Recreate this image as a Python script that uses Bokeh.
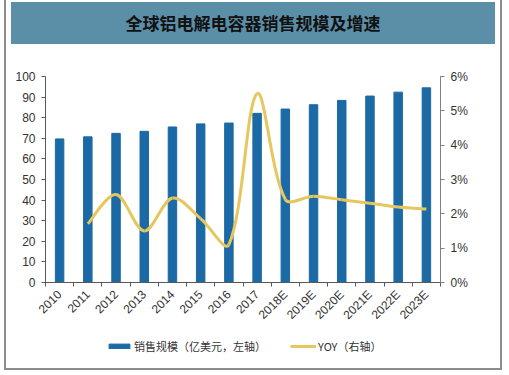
from bokeh.plotting import figure
from bokeh.models import (Div, Range1d, LinearAxis, FixedTicker, PrintfTickFormatter,
                          Legend, LegendItem, ColumnDataSource)
from bokeh.layouts import column
from bokeh.embed import file_html
from bokeh.resources import INLINE
import math

# ---- data ----
years = ["2010", "2011", "2012", "2013", "2014", "2015", "2016", "2017",
         "2018E", "2019E", "2020E", "2021E", "2022E", "2023E"]
sales = [69.7, 70.7, 72.4, 73.4, 75.5, 77.0, 77.4, 82.1, 84.2, 86.3, 88.4, 90.5, 92.4, 94.5]
yoy_years = years[1:]
yoy = [1.71, 2.56, 1.50, 2.46, 1.86, 1.10, 5.50, 2.42, 2.51, 2.41, 2.31, 2.20, 2.14]
left_ticks = [0, 10, 20, 30, 40, 50, 60, 70, 80, 90, 100]
right_ticks = [0, 1, 2, 3, 4, 5, 6]
title_text = "全球铝电解电容器销售规模及增速"
bar_label = "销售规模（亿美元，左轴）"
line_label = "YOY（右轴）"

BAR = "#1B69A5"
LINE = "#E6C75E"
AX = "#595959"
TXT = "#333333"

idx = list(range(len(years)))
pos = {y: i for i, y in enumerate(years)}

p = figure(width=484, height=280, output_backend="svg", toolbar_location=None,
           x_range=Range1d(-0.5, len(years) - 0.5), y_range=Range1d(0, 100),
           min_border_left=39, min_border_right=50, min_border_top=27, min_border_bottom=46,
           x_axis_type=None, y_axis_type=None)
p.extra_y_ranges = {"right": Range1d(0, 6)}
p.outline_line_color = None
p.xgrid.visible = False
p.ygrid.visible = False
p.background_fill_color = "white"
p.border_fill_color = "white"

src = ColumnDataSource(dict(x=idx, year=years, sales=sales))
bars = p.vbar(x="x", top="sales", width=0.3, color=BAR, source=src)

# smoothed YOY line: bezier segments through the data points, tangents scaled by
# chord lengths (screen proportions) like a spreadsheet "smoothed line"
xs = [pos[y] for y in yoy_years]
ys = yoy
n = len(xs)
SX, SY = 28.2, 34.4  # approx px per x unit / per y unit, used only for chord weighting


def dist(i, j):
    return math.hypot((xs[j] - xs[i]) * SX, (ys[j] - ys[i]) * SY)


def tangent(i):
    a = max(i - 1, 0)
    b = min(i + 1, n - 1)
    return xs[b] - xs[a], ys[b] - ys[a]


x0, y0, x1, y1, cx0, cy0, cx1, cy1 = [], [], [], [], [], [], [], []
T = 1.0 / 3.0
for i in range(n - 1):
    d_prev = dist(i - 1, i) if i > 0 else dist(i, i + 1)
    d_cur = dist(i, i + 1)
    d_next = dist(i + 1, i + 2) if i + 2 < n else d_cur
    tx0, ty0 = tangent(i)
    tx1, ty1 = tangent(i + 1)
    f0 = T * d_cur / (d_prev + d_cur)
    f1 = T * d_cur / (d_cur + d_next)
    x0.append(xs[i]); y0.append(ys[i])
    x1.append(xs[i + 1]); y1.append(ys[i + 1])
    cx0.append(xs[i] + tx0 * f0); cy0.append(ys[i] + ty0 * f0)
    cx1.append(xs[i + 1] - tx1 * f1); cy1.append(ys[i + 1] - ty1 * f1)
bsrc = ColumnDataSource(dict(x0=x0, y0=y0, x1=x1, y1=y1, cx0=cx0, cy0=cy0, cx1=cx1, cy1=cy1))
curve = p.bezier(x0="x0", y0="y0", x1="x1", y1="y1", cx0="cx0", cy0="cy0", cx1="cx1", cy1="cy1",
                 line_color=LINE, line_width=3, y_range_name="right", source=bsrc)

# x axis
xaxis = LinearAxis(ticker=FixedTicker(ticks=idx, minor_ticks=[i - 0.5 for i in range(len(years) + 1)]),
                   major_label_overrides={i: y for i, y in enumerate(years)})
xaxis.major_label_orientation = 0.785398
xaxis.major_tick_line_color = None
xaxis.minor_tick_line_color = AX
xaxis.minor_tick_in = 0
xaxis.minor_tick_out = 4
xaxis.axis_line_color = AX
xaxis.major_label_text_font = "Liberation Sans"
xaxis.major_label_text_font_size = "12px"
xaxis.major_label_text_color = TXT
xaxis.major_label_standoff = 4
p.add_layout(xaxis, "below")

# left axis
yaxis = LinearAxis(ticker=FixedTicker(ticks=left_ticks))
yaxis.major_tick_in = 0
yaxis.major_tick_out = 4
yaxis.minor_tick_line_color = None
yaxis.axis_line_color = AX
yaxis.major_tick_line_color = AX
yaxis.major_label_text_font = "Liberation Sans"
yaxis.major_label_text_font_size = "12px"
yaxis.major_label_text_color = TXT
yaxis.major_label_standoff = 6
p.add_layout(yaxis, "left")

# right axis
raxis = LinearAxis(y_range_name="right", ticker=FixedTicker(ticks=right_ticks),
                   formatter=PrintfTickFormatter(format="%d%%"))
raxis.major_tick_in = 0
raxis.major_tick_out = 4
raxis.minor_tick_line_color = None
raxis.axis_line_color = "#808080"
raxis.major_tick_line_color = "#808080"
raxis.major_label_text_font = "Liberation Sans"
raxis.major_label_text_font_size = "12px"
raxis.major_label_text_color = TXT
raxis.major_label_standoff = 6
p.add_layout(raxis, "right")

# legend strip: a small figure whose view lies outside the data, so its
# stand-in renderers only serve as legend swatches
lf = figure(width=484, height=39, output_backend="svg", toolbar_location=None,
            x_range=Range1d(-0.5, len(years) - 0.5), y_range=Range1d(1000, 1001),
            x_axis_type=None, y_axis_type=None,
            min_border_left=0, min_border_right=0, min_border_top=0, min_border_bottom=0)
lf.outline_line_color = None
lf.xgrid.visible = False
lf.ygrid.visible = False
lf.border_fill_color = "white"
lf.background_fill_color = "white"
lb = lf.vbar(x="x", top="sales", width=0.3, color=BAR, source=src)
ll = lf.line(x=xs, y=ys, line_color=LINE, line_width=3)
legend = Legend(items=[LegendItem(label=bar_label, renderers=[lb]),
                       LegendItem(label=line_label, renderers=[ll])],
                orientation="horizontal", location=(61, 14))
legend.glyph_width = 26
legend.glyph_height = 6
legend.label_height = 14
legend.label_standoff = 2
legend.spacing = 24
legend.padding = 2
legend.margin = 0
legend.label_text_font = "Noto Sans CJK SC"
legend.label_text_font_size = "11px"
legend.label_text_color = TXT
legend.background_fill_alpha = 0
legend.border_line_color = None
lf.add_layout(legend, "center")

header = Div(text=title_text, width=484, height=42,
             styles={"background-color": "#5B8FA8", "color": "#111111",
                     "font-family": "Noto Sans CJK SC", "font-weight": "bold",
                     "font-size": "17px", "text-align": "center", "line-height": "42px"})

layout = column(header, p, lf, spacing=0,
                styles={"border": "2px solid #8c8c8c", "margin-left": "4px", "margin-top": "-5px",
                        "background-color": "white"})

open("out.html", "w").write(file_html(layout, INLINE))
